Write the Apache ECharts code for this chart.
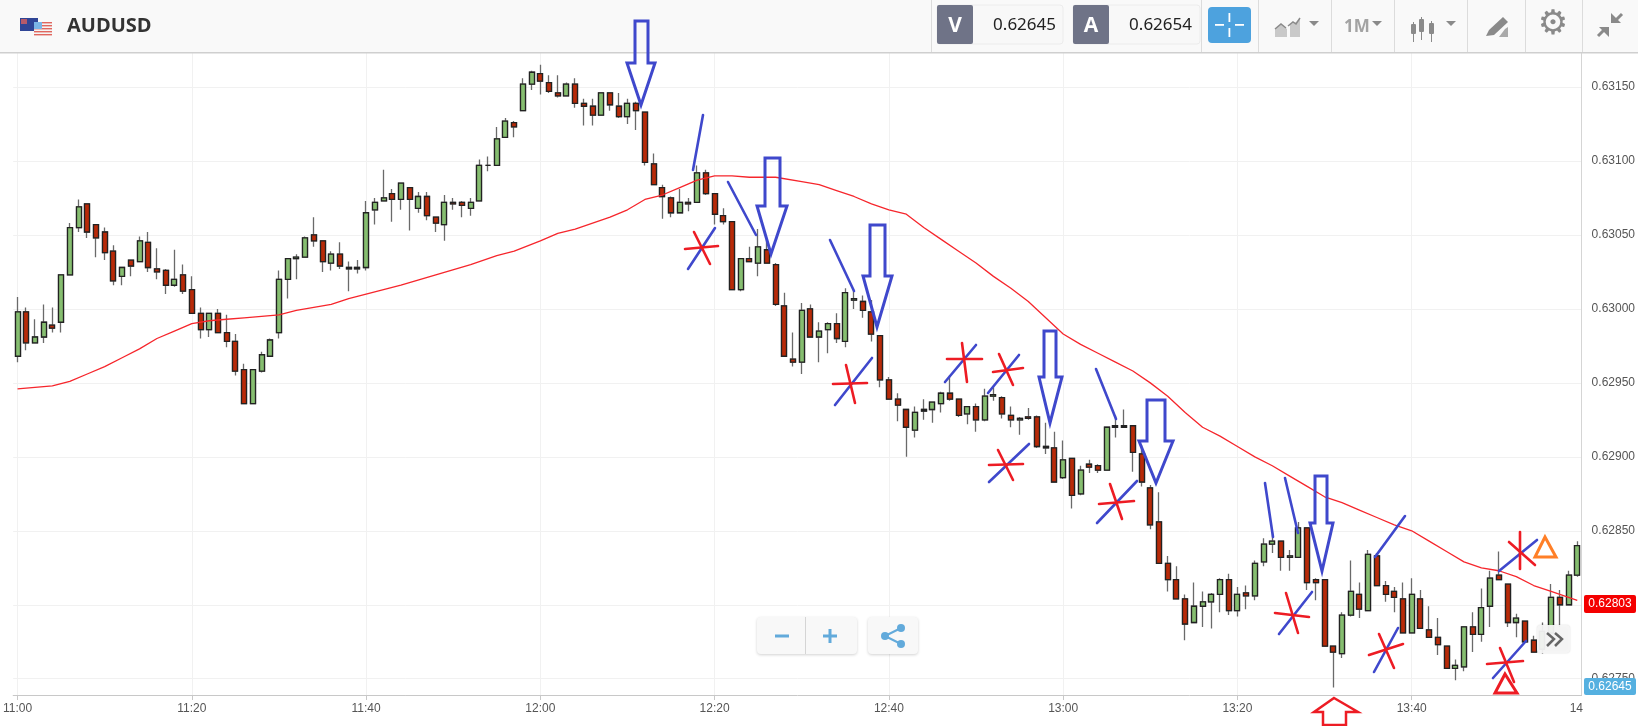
<!DOCTYPE html>
<html><head><meta charset="utf-8">
<style>html,body{margin:0;padding:0;background:#fff}#c{width:1638px;height:726px}</style>
<script src="https://cdn.jsdelivr.net/npm/echarts@6/dist/echarts.min.js"></script>
</head><body><div id="c"></div>
<script>
// prices in units of 0.00001
const opens=[62968,62998,62977,62981,62989,62991,63023,63055,63071,63057,63052,63039,63022,63033,63032,63045,63027,63026,63016,63023,63013,62997,62986,62997,62984,62978,62959,62936,62958,62968,62984,63020,63034,63035,63050,63046,63031,63037,63028,63027,63028,63067,63073,63078,63074,63082,63068,63076,63062,63057,63072,63072,63068,63073,63097,63097,63116,63126,63134,63152,63159,63153,63146,63144,63152,63139,63137,63131,63146,63137,63130,63139,63133,63098,63082,63075,63065,63072,63072,63092,63078,63063,63059,63013,63034,63031,63040,63030,63002,62966,62964,63000,62981,62986,62990,62978,63006,63005,62998,62982,62952,62939,62932,62918,62931,62932,62936,62943,62939,62929,62934,62925,62941,62940,62928,62925,62927,62927,62907,62906,62886,62899,62875,62895,62894,62891,62921,62920,62921,62902,62879,62856,62828,62817,62804,62788,62799,62802,62807,62817,62796,62808,62806,62829,62841,62843,62832,62832,62852,62817,62817,62772,62767,62793,62807,62796,62833,62813,62809,62804,62781,62804,62783,62778,62772,62757,62758,62785,62780,62799,62820,62814,62788,62789,62776,62770,62781,62805,62800,62820];
const closes=[62998,62977,62981,62991,62987,63023,63055,63069,63052,63048,63038,63019,63028,63029,63046,63028,63025,63016,63020,63012,62997,62986,62997,62984,62978,62958,62936,62959,62969,62979,63020,63034,63035,63048,63046,63032,63037,63029,63027,63028,63065,63072,63075,63074,63085,63074,63076,63063,63058,63072,63071,63070,63072,63097,63097,63115,63127,63123,63152,63160,63154,63147,63144,63152,63139,63137,63131,63146,63138,63130,63139,63134,63099,63084,63076,63065,63072,63071,63092,63078,63064,63059,63013,63034,63032,63042,63031,63003,62968,62964,62999,62981,62985,62990,62980,63011,63007,62999,62983,62952,62939,62935,62920,62930,62932,62937,62943,62939,62928,62934,62925,62941,62942,62929,62925,62926,62926,62907,62906,62883,62898,62874,62891,62893,62891,62920,62920,62921,62903,62883,62854,62828,62817,62804,62787,62799,62802,62807,62817,62796,62807,62806,62828,62841,62843,62832,62833,62852,62815,62815,62772,62768,62793,62809,62797,62834,62813,62807,62805,62781,62807,62784,62778,62773,62757,62759,62785,62780,62798,62818,62817,62788,62791,62775,62768,62782,62805,62800,62820,62840];
const highs=[63008,63001,62993,63003,63001,63023,63058,63074,63071,63057,63055,63043,63028,63033,63049,63052,63041,63027,63040,63030,63022,63001,62997,63000,62996,62983,62963,62959,62971,62980,63026,63034,63037,63049,63062,63046,63039,63045,63032,63033,63073,63075,63094,63081,63085,63082,63079,63079,63062,63077,63075,63073,63075,63101,63103,63123,63129,63127,63156,63161,63165,63158,63158,63153,63156,63142,63142,63146,63146,63146,63142,63140,63133,63105,63084,63076,63081,63075,63097,63094,63078,63068,63059,63034,63042,63054,63047,63031,63011,62984,63004,63003,62991,62991,62997,63014,63013,63009,63006,62982,62954,62943,62932,62934,62939,62937,62944,62955,62939,62934,62936,62946,62947,62941,62934,62927,62933,62928,62923,62917,62911,62899,62894,62898,62895,62920,62928,62932,62921,62908,62881,62876,62833,62826,62807,62815,62809,62808,62818,62821,62812,62813,62830,62845,62849,62843,62837,62856,62852,62818,62817,62772,62795,62830,62815,62837,62835,62816,62812,62815,62818,62810,62799,62791,62772,62763,62785,62795,62811,62823,62836,62814,62794,62789,62779,62788,62814,62810,62823,62843];
const lows=[62964,62972,62977,62977,62984,62984,63023,63052,63048,63035,63033,63016,63016,63022,63032,63025,63020,63010,63015,63010,62997,62980,62981,62984,62974,62955,62936,62936,62957,62968,62980,63007,63020,63035,63042,63025,63026,63027,63012,63024,63026,63057,63073,63059,63067,63053,63065,63060,63052,63046,63067,63062,63063,63073,63093,63097,63116,63116,63134,63148,63145,63146,63143,63144,63136,63124,63124,63131,63134,63129,63125,63121,63097,63084,63061,63062,63065,63066,63072,63077,63057,63057,63013,63012,63032,63022,63031,63002,62968,62961,62956,62981,62964,62970,62977,62974,63000,62994,62978,62947,62939,62924,62900,62913,62925,62923,62930,62938,62927,62922,62917,62924,62938,62926,62920,62915,62925,62906,62902,62883,62885,62865,62874,62889,62889,62891,62913,62920,62890,62880,62851,62828,62809,62804,62776,62788,62785,62784,62795,62793,62792,62797,62803,62826,62835,62823,62823,62832,62810,62803,62772,62744,62764,62792,62791,62796,62813,62802,62795,62781,62781,62784,62778,62766,62757,62749,62755,62768,62775,62785,62817,62785,62778,62775,62768,62767,62778,62785,62800,62819];
// moving average read at these candle positions
const maAt=[0,4,6,8,10,12,14,16,18,20,22,24,26,28,30,32,34,36,38,40,44,48,52,55,57,60,62,64,66,68,70,72,74,76,78,80,82,84,87,90,92,94,96,98,100,102,104,106,108,110,112,114,116,118,120,122,124,126,128,130,132,134,136,138,140,142,144,146,148,150,152,154,156,158,160,162,164,166,168,170,172,174,176,178,179];
const maValues=[62946,62948,62951,62956,62961,62967,62973,62980,62985,62990,62992,62993,62994,62995,62996,62999,63001,63003,63007,63010,63016,63023,63030,63036,63039,63046,63051,63054,63058,63062,63067,63074,63077,63082,63087,63090,63090,63089,63089,63086,63084,63080,63076,63071,63067,63064,63055,63047,63039,63031,63022,63014,63005,62994,62983,62976,62970,62964,62958,62950,62941,62930,62920,62914,62907,62900,62894,62887,62880,62873,62869,62864,62859,62854,62850,62843,62836,62829,62825,62823,62819,62813,62809,62805,62803];
const priceTicks=[0.6275,0.628,0.6285,0.629,0.6295,0.63,0.6305,0.631,0.6315];
const symbol='AUDUSD', sellPrice='0.62645', buyPrice='0.62654', lastPrice='0.62803', period='1M';

const categories=opens.map((_,i)=>{const m=660+i;return Math.floor(m/60)+':'+String(m%60).padStart(2,'0');});
const p=v=>v/100000;
const maData=categories.map(()=>null);
maAt.forEach((k,j)=>{maData[k]=p(maValues[j]);});
const wickData=opens.map((o,i)=>[p(o),p(closes[i]),p(lows[i]),p(highs[i])]);
const bodyData=opens.map((o,i)=>{const c=closes[i];return [p(o),p(c),p(Math.min(o,c)),p(Math.max(o,c))];});

const BLUE='#3f48cc',RED='#ed1c24',ORANGE='#ff7f27',GREY='#8a8a8a';
const g=[];
const rect=(x,y,w,h,fill,r,stroke,extra)=>g.push(Object.assign({type:'rect',z:100,shape:{x,y,width:w,height:h,r:r||0},style:{fill,stroke:stroke||null,lineWidth:stroke?1:0}},extra||{}));
const line=(x1,y1,x2,y2,c,w)=>g.push({type:'line',z:120,shape:{x1,y1,x2,y2},style:{stroke:c,lineWidth:w,lineCap:'round'}});
const poly=(pts,c,w,fill)=>g.push({type:'polygon',z:120,shape:{points:pts},style:{stroke:c,lineWidth:w,fill:fill||'transparent',lineJoin:'miter'}});
const fillPoly=(pts,c)=>g.push({type:'polygon',z:110,shape:{points:pts},style:{fill:c}});
const pl=(pts,c,w)=>g.push({type:'polyline',z:110,shape:{points:pts},style:{stroke:c,lineWidth:w,fill:'transparent'}});
const txt=(x,y,t,font,fill,align)=>g.push({type:'text',z:130,x,y,style:{text:t,font,fill,align:align||'left',verticalAlign:'middle'}});

// header
rect(0,0,1638,52,'#f9f9f9');
rect(0,52,1638,1.5,'#cfcfcf');
[931,1201,1258,1331,1394,1467,1525,1582].forEach(x=>rect(x,0,1,52,'#dcdcdc'));
// flags
rect(20,18,18,13,'#2f4596');
rect(21,19,6,5,'#b55a6a');
rect(34,22,18,13,'#f4f4f4');
[22,25,28,31,34].forEach(y=>rect(34,y,18,1.4,'#e0675f'));
rect(34,22,8,7,'#7ab5e6');
txt(67,26,symbol,'bold 20px "Open Sans"','#333');
// quotes
rect(937,5,126,39,'#f8f8f8',3,'#ececec');
rect(937,5,36,39,'#6f7387',2);
txt(955,26,'V','bold 21px "Open Sans"','#fff','center');
txt(1056,25,sellPrice,'17px "Noto Sans"','#222','right');
rect(1073,5,127,39,'#f8f8f8',3,'#ececec');
rect(1073,5,36,39,'#6f7387',2);
txt(1091,26,'A','bold 21px "Open Sans"','#fff','center');
txt(1192,25,buyPrice,'17px "Noto Sans"','#222','right');
rect(1208,7,43,36,'#4da2de',4);
rect(1215,24,9,1.8,'#fff');rect(1235,24,9,1.8,'#fff');rect(1228.5,13,1.8,9,'#fff');rect(1228.5,28,1.8,9,'#fff');
// toolbar icons
fillPoly([[1275,37],[1275,29],[1281,24],[1287,29],[1287,37]],'#c9c9c9');
fillPoly([[1290,37],[1290,24],[1296,22],[1300,18],[1300,37]],'#c9c9c9');
pl([[1275,29],[1281,24],[1286,28]],GREY,1.5);pl([[1288,26],[1293,22],[1296,24],[1300,18]],GREY,1.5);
fillPoly([[1309,21],[1319,21],[1314,26]],GREY);
txt(1344,27,period,'bold 17px "Open Sans"','#a3a3a3');
fillPoly([[1372,21],[1382,21],[1377,26]],GREY);
[[1415,24,10],[1423,19,13],[1433,23,11]].forEach(b=>{rect(b[0]-2,b[1]-2,1,b[2]+10,GREY);rect(b[0]-4,b[1],5,b[2],GREY,1);});
fillPoly([[1446,21],[1456,21],[1451,26]],GREY);
fillPoly([[1486,36],[1489,30],[1503,17],[1508,22],[1494,35]],GREY);
fillPoly([[1499,37],[1505,29],[1508,27],[1508,37]],'#aaa');
txt(1553,25,'⚙','34px "DejaVu Sans"',GREY,'center');
pl([[1598,36],[1606,28]],GREY,3);fillPoly([[1599,27],[1609,27],[1609,37]],GREY);
pl([[1622,14],[1614,22]],GREY,3);fillPoly([[1611,13],[1611,23],[1621,23]],GREY);

// price tags
rect(1584,595,52,18,'#f40000',2);
txt(1610,604,lastPrice,'12px "Liberation Sans"','#fff','center');
rect(1584,678,52,17,'#55b0e0',2);
txt(1610,687,sellPrice,'12px "Liberation Sans"','#fff','center');
txt(1583,709,'14','12px "Liberation Sans"','#555','right');

// zoom + share buttons
rect(757,617,100,37,'#f8f8f8',4,null,{style:{fill:'#f8f8f8',shadowBlur:3,shadowColor:'rgba(0,0,0,0.18)',shadowOffsetY:1}});
rect(805,617,1,37,'#d5d5d5');
rect(868,617,50,37,'#f8f8f8',4,null,{style:{fill:'#f8f8f8',shadowBlur:3,shadowColor:'rgba(0,0,0,0.18)',shadowOffsetY:1}});
rect(775,634.5,14,3,'#62aadb');
rect(823,634.5,14,3,'#62aadb');rect(828.5,629,3,14,'#62aadb');
pl([[885,636],[901,628]],'#62aadb',2);pl([[885,636],[901,644]],'#62aadb',2);
[[885,636],[901,628],[901,644]].forEach(c=>g.push({type:'circle',z:110,shape:{cx:c[0],cy:c[1],r:4},style:{fill:'#62aadb'}}));
// scroll button
rect(1537,625,33,28,'#f5f5f5',4,null,{style:{fill:'rgba(245,245,245,0.95)',shadowBlur:2,shadowColor:'rgba(0,0,0,0.15)'}});
pl([[1547,633],[1554,639],[1547,646]],'#666',2.5);pl([[1555,633],[1562,639],[1555,646]],'#666',2.5);

// hand-drawn annotations
const downArrows=[
 [[635,21],[648,21],[648,63],[655,63],[641,105],[627,63],[635,63]],
 [[765,158],[780,158],[780,206],[787,206],[771,254],[757,206],[765,206]],
 [[870,225],[885,225],[885,276],[892,276],[877,327],[863,276],[870,276]],
 [[1044,331],[1056,331],[1056,377],[1062,377],[1050,423],[1039,377],[1044,377]],
 [[1147,400],[1165,400],[1165,441],[1173,441],[1156,483],[1139,441],[1147,441]],
 [[1315,476],[1327,476],[1327,523],[1333,523],[1322,571],[1310,523],[1315,523]]
];
downArrows.forEach(a=>poly(a,BLUE,3));
poly([[1334,698],[1358,712],[1346,712],[1346,725],[1323,725],[1323,712],[1314,712]],RED,2.5);
const blueStrokes=[[703,115,693,170],[728,182,756,235],[688,269,715,228],[830,240,854,291],[835,405,872,358],[945,382,976,345],[988,393,1019,355],[989,482,1029,444],[1096,369,1116,419],[1097,523,1137,481],[1265,483,1273,537],[1285,478,1298,533],[1279,634,1312,592],[1375,557,1405,516],[1374,672,1398,628],[1499,571,1537,540],[1493,678,1526,641]];
blueStrokes.forEach(s=>line(s[0],s[1],s[2],s[3],BLUE,2.6));
const redStrokes=[[694,232,710,264],[685,249,718,246],[833,384,867,383],[846,365,855,403],[947,359,982,359],[962,343,967,382],[993,372,1023,368],[999,354,1013,385],[989,465,1023,464],[998,450,1013,480],[1099,504,1134,501],[1110,484,1122,519],[1275,613,1309,617],[1286,593,1298,633],[1369,655,1403,644],[1379,634,1394,668],[1520,532,1520,569],[1509,542,1535,565],[1487,664,1523,661],[1500,648,1514,682]];
redStrokes.forEach(s=>line(s[0],s[1],s[2],s[3],RED,2.6));
poly([[1545,537],[1535,557],[1556,557]],ORANGE,3);
poly([[1505,674],[1495,693],[1517,693]],RED,3);

const chart=echarts.init(document.getElementById('c'),null,{renderer:'canvas'});
chart.setOption({
 animation:false,
 backgroundColor:'#fff',
 grid:{left:0.6,top:53,width:1581.4,height:642,containLabel:false},
 xAxis:{type:'category',data:categories,boundaryGap:true,
  axisLine:{show:true,lineStyle:{color:'#c8c8c8',width:1}},
  axisTick:{show:true,alignWithLabel:true,interval:19,length:5,lineStyle:{color:'#c8c8c8'}},
  axisLabel:{interval:19,margin:8,color:'#555',fontSize:12,fontFamily:'Liberation Sans'},
  splitLine:{show:true,interval:19,alignWithLabel:true,lineStyle:{color:'#f1f1f1',width:1}}},
 yAxis:{type:'value',position:'right',min:0.62739,max:0.63173,scale:true,
  axisLine:{show:true,lineStyle:{color:'#d5d5d5'}},
  axisTick:{show:false,customValues:priceTicks},
  axisLabel:{customValues:priceTicks,margin:10,color:'#555',fontSize:12,fontFamily:'Liberation Sans',formatter:v=>v.toFixed(5)},
  splitLine:{show:true,lineStyle:{color:'#f1f1f1',width:1}}},
 series:[
  {type:'candlestick',name:'wicks',data:wickData,barWidth:5.5,z:2,
   itemStyle:{color:'#86be70',color0:'#b82a08',borderColor:'#6a6a6a',borderColor0:'#6a6a6a',borderWidth:1.3}},
  {type:'candlestick',name:'bodies',data:bodyData,barWidth:5.5,z:3,
   itemStyle:{color:'#86be70',color0:'#b82a08',borderColor:'#222',borderColor0:'#222',borderWidth:1.3}},
  {type:'line',name:'MA',data:maData,connectNulls:true,showSymbol:false,symbol:'none',z:4,
   lineStyle:{color:'#f6262c',width:1.3}}
 ],
 graphic:{elements:g}
});
</script></body></html>
